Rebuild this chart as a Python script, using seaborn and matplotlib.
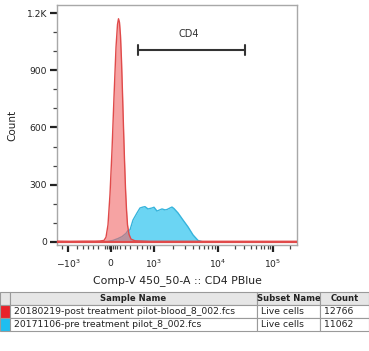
import numpy as np
import pandas as pd
import matplotlib
matplotlib.use("Agg")
import matplotlib.pyplot as plt
import seaborn as sns

# ---------------- data (display-channel units on x, counts on y) ----------------
red_x = [0, 13, 28, 38, 43, 47, 49, 51, 53, 55, 57, 59, 60.5, 61.5, 62.5, 63.5, 64.5,
         65.5, 66.5, 67.5, 68.5, 69.5, 70.5, 72, 74, 78, 93, 143, 240]
red_y = [4, 3, 4, 4, 5, 8, 25, 90, 250, 480, 760, 1020, 1140, 1170, 1150, 1080, 950,
         780, 600, 430, 280, 170, 90, 40, 15, 6, 3, 3, 3]

blue_x = [0, 43, 51, 56, 61, 65, 69, 71, 73, 76, 80, 83, 86, 88, 91, 95, 97, 100,
          105, 108, 110, 113, 115, 117, 121, 126, 131, 136, 141, 146, 240]
blue_y = [0, 0, 3, 8, 18, 28, 45, 60, 63, 115, 152, 178, 183, 185, 173, 178, 182, 162,
          173, 168, 170, 178, 183, 175, 152, 115, 79, 37, 8, 0, 0]

x_tick_pos = [11, 54, 97, 161, 216]
x_tick_lab = [r"$-10^{3}$", r"$0$", r"$10^{3}$", r"$10^{4}$", r"$10^{5}$"]
y_tick_pos = [0, 300, 600, 900, 1200]
y_tick_lab = ["0", "300", "600", "900", "1.2K"]

gate_label = "CD4"
gate_lo, gate_hi, gate_y = 81, 188, 1006

samples = ["20180219-post treatment pilot-blood_8_002.fcs",
           "20171106-pre treatment pilot_8_002.fcs"]
subsets = ["Live cells", "Live cells"]
counts = ["12766", "11062"]
header = ["", "Sample Name", "Subset Name", "Count"]

red_fill, red_edge = "#f06666", "#e04a4a"
blue_fill, blue_edge = "#63d3f3", "#36b4dc"
swatch_colors = ["#e8222a", "#1fbef0"]

# ---------------- figure ----------------
sns.set_style("white")
plt.rcParams["font.family"] = ["DejaVu Sans"]

W, H = 369, 351
fig = plt.figure(figsize=(W / 100, H / 100), dpi=100)
ax = fig.add_axes([57 / W, 1 - 245 / H, 240 / W, 240 / H])

df_r = pd.DataFrame({"x": red_x, "y": red_y})
df_b = pd.DataFrame({"x": blue_x, "y": blue_y})

ax.fill_between(df_b.x, df_b.y, 0, color=blue_fill, alpha=0.95, lw=0, zorder=2)
sns.lineplot(data=df_b, x="x", y="y", color=blue_edge, lw=1.0, ax=ax, zorder=3)
ax.fill_between(df_r.x, df_r.y, 0, color=red_fill, alpha=0.6, lw=0, zorder=4)
sns.lineplot(data=df_r, x="x", y="y", color=red_edge, lw=1.0, ax=ax, zorder=5)
ax.axhline(0, color=red_edge, lw=1.6, zorder=5)

ax.set_xlim(0, 240)
ax.set_ylim(-16, 1242)

# gate
ax.plot([gate_lo, gate_hi], [gate_y, gate_y], color="#333333", lw=1.5, zorder=6)
for gx in (gate_lo, gate_hi):
    ax.plot([gx, gx], [gate_y - 28, gate_y + 28], color="#333333", lw=1.5, zorder=6)
ax.text((gate_lo + gate_hi) / 2 - 3, gate_y + 60, gate_label, ha="center", va="bottom",
        fontsize=7, color="#333333")

# ticks
ax.set_xticks(x_tick_pos)
ax.set_xticklabels(x_tick_lab)
ax.set_yticks(y_tick_pos)
ax.set_yticklabels(y_tick_lab)
minor_x = [5, 20, 26, 31, 36, 41, 48, 50, 52, 56, 58, 60, 63, 68, 73, 80, 85, 90, 93]
minor_x += [97 + 64 * np.log10(k) for k in range(2, 10)]
minor_x += [161 + 55 * np.log10(k) for k in range(2, 10)]
minor_x += [216 + 55 * np.log10(2)]
ax.set_xticks(minor_x, minor=True)
ax.set_yticks([100, 200, 400, 500, 700, 800, 1000, 1100], minor=True)
ax.tick_params(axis="both", which="major", length=5, width=1.6, color="#222222",
               labelsize=6.6, labelcolor="#222222", pad=2, direction="out")
ax.tick_params(axis="both", which="minor", length=3, width=0.9, color="#444444",
               direction="out")
ax.tick_params(axis="x", which="major", pad=4)
ax.tick_params(bottom=True, left=True, which="both")

for s in ["top", "right", "left", "bottom"]:
    ax.spines[s].set_color("#a8a8a8")
    ax.spines[s].set_linewidth(1.0)

ax.set_xlabel("Comp-V 450_50-A :: CD4 PBlue", fontsize=7.8, color="#222222", labelpad=4)
ax.set_ylabel("Count", fontsize=7.5, color="#222222", labelpad=7)

# ---------------- table ----------------
tab_ax = fig.add_axes([0, 1 - 331 / H, 1, 39 / H])
tab_ax.axis("off")
cell_text = [["", samples[i], subsets[i], counts[i]] for i in range(len(samples))]
col_w = [10, 247, 63, 49]
tbl = tab_ax.table(cellText=cell_text, colLabels=header,
                   colWidths=[c / sum(col_w) for c in col_w],
                   cellLoc="left", colLoc="center", bbox=[0, 0, 1, 1])
tbl.auto_set_font_size(False)
tbl.set_fontsize(6.7)
for (r, c), cell in tbl.get_celld().items():
    cell.set_edgecolor("#9a9a9a")
    cell.set_linewidth(0.8)
    cell.PAD = 4 / col_w[c]
    cell.get_text().set_color("#222222")
    if r == 0:
        cell.set_facecolor("#e6e6e6")
        cell.get_text().set_fontweight("bold")
        cell.get_text().set_fontsize(6.1)
    elif c == 0:
        cell.set_facecolor(swatch_colors[r - 1])
tbl.get_celld()[(0, 3)]._loc = "left"

fig.savefig("out.png", dpi=100)
